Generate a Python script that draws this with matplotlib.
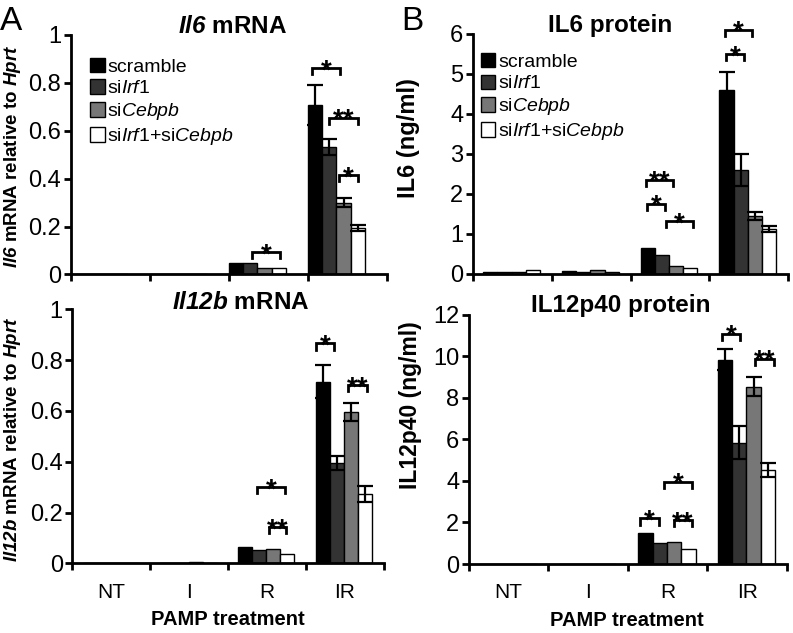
import matplotlib
matplotlib.use("Agg")
import matplotlib.pyplot as plt

plt.rcParams['font.family'] = ['Liberation Sans', 'DejaVu Sans']
plt.rcParams['mathtext.fontset'] = 'custom'
plt.rcParams['mathtext.rm'] = 'Liberation Sans'
plt.rcParams['mathtext.it'] = 'Liberation Sans:italic'
plt.rcParams['mathtext.sf'] = 'Liberation Sans:bold:italic'
plt.rcParams['mathtext.bf'] = 'Liberation Sans:bold'

# ---------------- data ----------------
categories = ['NT', 'I', 'R', 'IR']
series = ['scramble', r'si$\mathit{Irf1}$', r'si$\mathit{Cebpb}$', r'si$\mathit{Irf1}$+si$\mathit{Cebpb}$']
colors = ['#000000', '#333333', '#777777', '#ffffff']

# rows = series, columns = categories (NT, I, R, IR)
il6_mrna = [[0.0, 0.003, 0.049, 0.708],
            [0.0, 0.002, 0.047, 0.532],
            [0.0, 0.001, 0.028, 0.300],
            [0.0, 0.001, 0.028, 0.194]]
il6_mrna_err = [[0, 0, 0, 0.083],
                [0, 0, 0, 0.033],
                [0, 0, 0, 0.020],
                [0, 0, 0, 0.013]]

il12b_mrna = [[0.0, 0.003, 0.065, 0.715],
              [0.0, 0.002, 0.052, 0.394],
              [0.0, 0.004, 0.055, 0.597],
              [0.0, 0.002, 0.037, 0.273]]
il12b_mrna_err = [[0, 0, 0, 0.065],
                  [0, 0, 0, 0.028],
                  [0, 0, 0, 0.035],
                  [0, 0, 0, 0.030]]

il6_protein = [[0.04, 0.06, 0.65, 4.58],
               [0.03, 0.04, 0.47, 2.58],
               [0.03, 0.08, 0.20, 1.44],
               [0.08, 0.04, 0.15, 1.12]]
il6_protein_err = [[0, 0, 0, 0.45],
                   [0, 0, 0, 0.40],
                   [0, 0, 0, 0.11],
                   [0, 0, 0, 0.07]]

il12p40_protein = [[0.0, 0.0, 1.50, 9.85],
                   [0.0, 0.0, 1.00, 5.85],
                   [0.0, 0.0, 1.05, 8.55],
                   [0.0, 0.0, 0.72, 4.53]]
il12p40_protein_err = [[0, 0, 0, 0.50],
                       [0, 0, 0, 0.80],
                       [0, 0, 0, 0.45],
                       [0, 0, 0, 0.35]]

# significance brackets: (category index, from bar, to bar, height, label)
il6_mrna_sig = [(2, 1.1, 3.1, 0.095, '*'), (3, -0.2, 1.75, 0.86, '*'),
                (3, 1.0, 3.0, 0.655, '**'), (3, 1.65, 3.0, 0.415, '*')]
il12b_mrna_sig = [(2, 0.84, 2.8, 0.30, '*'), (2, 1.7, 2.9, 0.144, '**'),
                  (3, -0.5, 0.74, 0.866, '*'), (3, 1.8, 3.15, 0.702, '**')]
il6_protein_sig = [(2, -0.15, 1.8, 2.35, '**'), (2, -0.05, 1.23, 1.75, '*'),
                   (2, 1.25, 3.2, 1.31, '*'), (3, -0.1, 1.8, 6.1, '*'),
                   (3, -0.05, 1.23, 5.48, '*')]
il12p40_protein_sig = [(2, 1.27, 3.28, 3.97, '*'), (2, -0.36, 0.94, 2.2, '*'),
                       (2, 1.97, 3.28, 2.12, '**'), (3, -0.22, 1.06, 11.1, '*'),
                       (3, 2.1, 3.4, 9.9, '**')]

W = 0.18


def panel(rect, means, errs, offset, ymax, ystep, fmt, sig, title, title_xy,
          ylabel, ylabel_xy, ylabel_size, show_x=False, legend_anchor=None,
          xlabel_xy=None):
    ax = fig.add_axes(rect)
    for k in range(4):
        xs = [c + offset + W * (k + 0.5) for c in range(4)]
        ax.bar(xs, means[k], width=W, color=colors[k], edgecolor='black',
               linewidth=1.0, label=series[k], zorder=2)
        for c in range(4):
            if errs[k][c] > 0:
                ax.errorbar(xs[c], means[k][c], yerr=errs[k][c], fmt='none',
                            ecolor='black', elinewidth=1.6, capsize=6,
                            capthick=1.6, zorder=3)
    leg = ymax * 0.025
    for (c, a, b, y, lab) in sig:
        x0 = c + offset + W * (a + 0.5)
        x1 = c + offset + W * (b + 0.5)
        ax.plot([x0, x0, x1, x1], [y - leg, y, y, y - leg], color='black',
                lw=2.0, clip_on=False, zorder=4, solid_joinstyle='miter')
        ax.annotate(lab, xy=((x0 + x1) / 2, y), xytext=(0, -7.5),
                    textcoords='offset points', ha='center', va='baseline',
                    fontsize=20, fontweight='bold', annotation_clip=False)
    ax.set_xlim(0, 4)
    ax.set_ylim(0, ymax)
    ticks = [i * ystep for i in range(int(round(ymax / ystep)) + 1)]
    ax.set_yticks(ticks)
    ax.set_yticklabels([fmt(t) for t in ticks], fontsize=17)
    ax.set_xticks([0, 1, 2, 3, 4])
    ax.set_xticklabels([])
    ax.set_xticks([0.5, 1.5, 2.5, 3.5], minor=True)
    if show_x:
        ax.set_xticklabels(categories, minor=True, fontsize=15)
    else:
        ax.set_xticklabels([], minor=True)
    ax.tick_params(axis='x', which='minor', length=0, pad=14)
    ax.tick_params(axis='both', which='major', direction='out', length=5,
                   width=2, pad=2)
    for s in ['top', 'right']:
        ax.spines[s].set_visible(False)
    for s in ['left', 'bottom']:
        ax.spines[s].set_linewidth(2)
    ax.text(title_xy[0], title_xy[1], title, transform=ax.transAxes,
            ha='center', va='center', fontsize=17.5, fontweight='bold')
    ax.set_ylabel(ylabel, fontsize=ylabel_size, fontweight='bold')
    ax.yaxis.set_label_coords(*ylabel_xy)
    if show_x:
        ax.set_xlabel('PAMP treatment', fontsize=14.5, fontweight='bold')
        ax.xaxis.set_label_coords(*xlabel_xy)
    if legend_anchor is not None:
        ax.legend(loc='upper left', bbox_to_anchor=legend_anchor, frameon=False,
                  fontsize=14, handlelength=0.75, handleheight=0.75,
                  handletextpad=0.15, labelspacing=0.2, borderaxespad=0,
                  borderpad=0)
    return ax


fig = plt.figure(figsize=(7.93, 6.33), dpi=100)

fmt_dec = lambda t: '0' if t == 0 else ('1' if abs(t - 1) < 1e-9 else f'{t:.1f}')
fmt_int = lambda t: f'{int(round(t))}'

panel([0.0895, 0.5664, 0.3985, 0.3784], il6_mrna, il6_mrna_err, 0.0, 1.0, 0.2,
      fmt_dec, il6_mrna_sig, r'$\mathsf{Il6}$ mRNA', (0.51, 1.035),
      r'$\mathsf{Il6}$ mRNA relative to $\mathsf{Hprt}$', (-0.152, 0.495), 13.5,
      legend_anchor=(0.06, 0.905))

panel([0.0914, 0.1101, 0.3928, 0.4013], il12b_mrna, il12b_mrna_err, 0.13, 1.0, 0.2,
      fmt_dec, il12b_mrna_sig, r'$\mathsf{Il12b}$ mRNA', (0.54, 1.025),
      r'$\mathsf{Il12b}$ mRNA relative to $\mathsf{Hprt}$', (-0.158, 0.49), 13.5,
      show_x=True, xlabel_xy=(0.498, -0.185))

panel([0.5965, 0.5679, 0.3972, 0.3791], il6_protein, il6_protein_err, 0.13, 6, 1,
      fmt_int, il6_protein_sig, 'IL6 protein', (0.435, 1.035),
      'IL6 (ng/ml)', (-0.168, 0.565), 17, legend_anchor=(0.025, 0.92))

panel([0.5914, 0.109, 0.401, 0.3934], il12p40_protein, il12p40_protein_err, 0.13, 12, 2,
      fmt_int, il12p40_protein_sig, 'IL12p40 protein', (0.478, 1.04),
      'IL12p40 (ng/ml)', (-0.148, 0.64), 16.5, show_x=True,
      xlabel_xy=(0.497, -0.188))

fig.text(0.0, 0.99, 'A', fontsize=24, ha='left', va='top')
fig.text(0.506, 0.99, 'B', fontsize=24, ha='left', va='top')

fig.savefig('out.png', dpi=100)
